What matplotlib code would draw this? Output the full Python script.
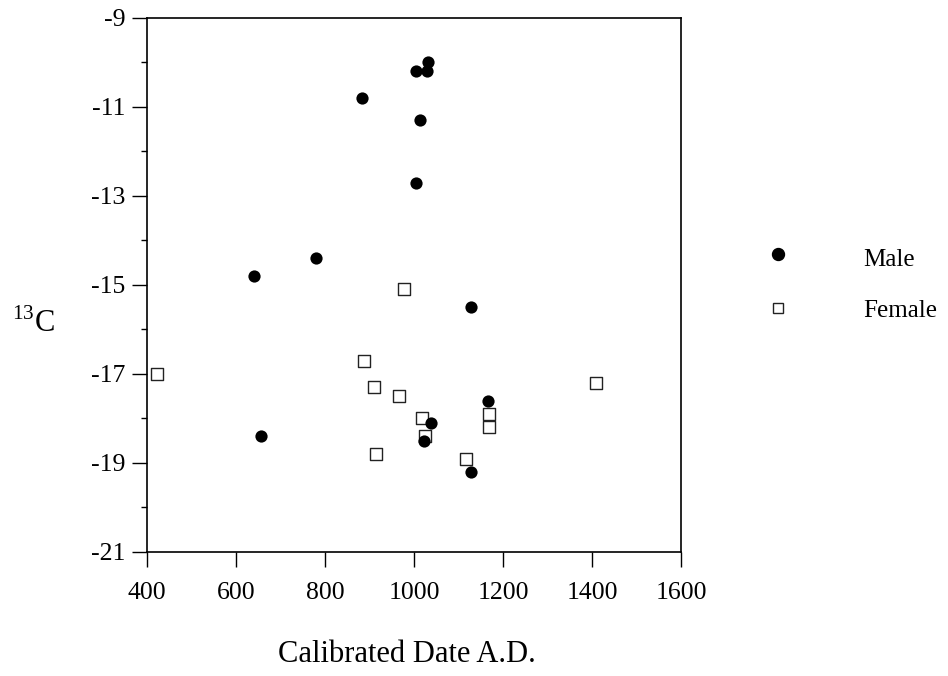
import matplotlib
matplotlib.use("Agg")
import matplotlib.pyplot as plt
from matplotlib.lines import Line2D
from matplotlib.ticker import MultipleLocator

plt.rcParams['font.family'] = ['Liberation Serif', 'DejaVu Serif']
plt.rcParams['mathtext.fontset'] = 'custom'
plt.rcParams['mathtext.rm'] = 'Liberation Serif'
plt.rcParams['axes.unicode_minus'] = False

male_date = [1031, 1005, 1029, 884, 1014, 1005, 780, 641, 1128, 1166, 1038, 657, 1022, 1128]
male_c13 = [-10.0, -10.2, -10.2, -10.8, -11.3, -12.7, -14.4, -14.8, -15.5, -17.6, -18.1, -18.4, -18.5, -19.2]

female_date = [977, 887, 422, 910, 967, 1410, 1019, 1168, 1168, 1024, 915, 1116]
female_c13 = [-15.1, -16.7, -17.0, -17.3, -17.5, -17.2, -18.0, -17.9, -18.2, -18.4, -18.8, -18.9]

x_ticks = [400, 600, 800, 1000, 1200, 1400, 1600]
y_ticks = [-21, -19, -17, -15, -13, -11, -9]

W, H = 948, 676
fig = plt.figure(figsize=(W / 100, H / 100), dpi=100)

def fx(px):
    return px / W

def fy(py):
    return 1 - py / H

ax = fig.add_axes([fx(147), fy(552), (681 - 147) / W, (552 - 18) / H])

ax.scatter(female_date, female_c13, marker='s', s=8.0 ** 2, facecolors='white',
           edgecolors='#222222', linewidths=1.0, zorder=3)
ax.scatter(male_date, male_c13, marker='o', s=8.8 ** 2, color='black',
           linewidths=0, zorder=4)

ax.set_xlim(400, 1600)
ax.set_ylim(-21, -9)
ax.set_xticks(x_ticks)
ax.set_yticks(y_ticks)
ax.yaxis.set_minor_locator(MultipleLocator(1))
ax.tick_params(axis='both', which='major', direction='out', length=10.8, width=1.0,
               labelsize=18.5, color='black')
ax.tick_params(axis='y', which='minor', direction='out', length=4.3, width=1.0)
ax.tick_params(axis='y', which='major', pad=4.5)
ax.tick_params(axis='x', which='major', pad=10.5)
for sp in ax.spines.values():
    sp.set_linewidth(1.2)
    sp.set_color('black')

fig.text(fx(407), fy(655), 'Calibrated Date A.D.', fontsize=22, ha='center', va='center')
fig.text(fx(12), fy(324), r'$^{13}$C', fontsize=22, ha='left', va='center')

fig.add_artist(Line2D([fx(778)], [fy(254)], transform=fig.transFigure, marker='o',
                      markersize=8.6, color='black', linestyle='none'))
fig.add_artist(Line2D([fx(778)], [fy(308)], transform=fig.transFigure, marker='s',
                      markersize=7.5, markerfacecolor='white', markeredgecolor='#222222',
                      markeredgewidth=1.0, linestyle='none'))
fig.text(fx(863), fy(260), 'Male', fontsize=18, ha='left', va='center')
fig.text(fx(863), fy(311), 'Female', fontsize=18, ha='left', va='center')

fig.savefig('out.png', dpi=100)
